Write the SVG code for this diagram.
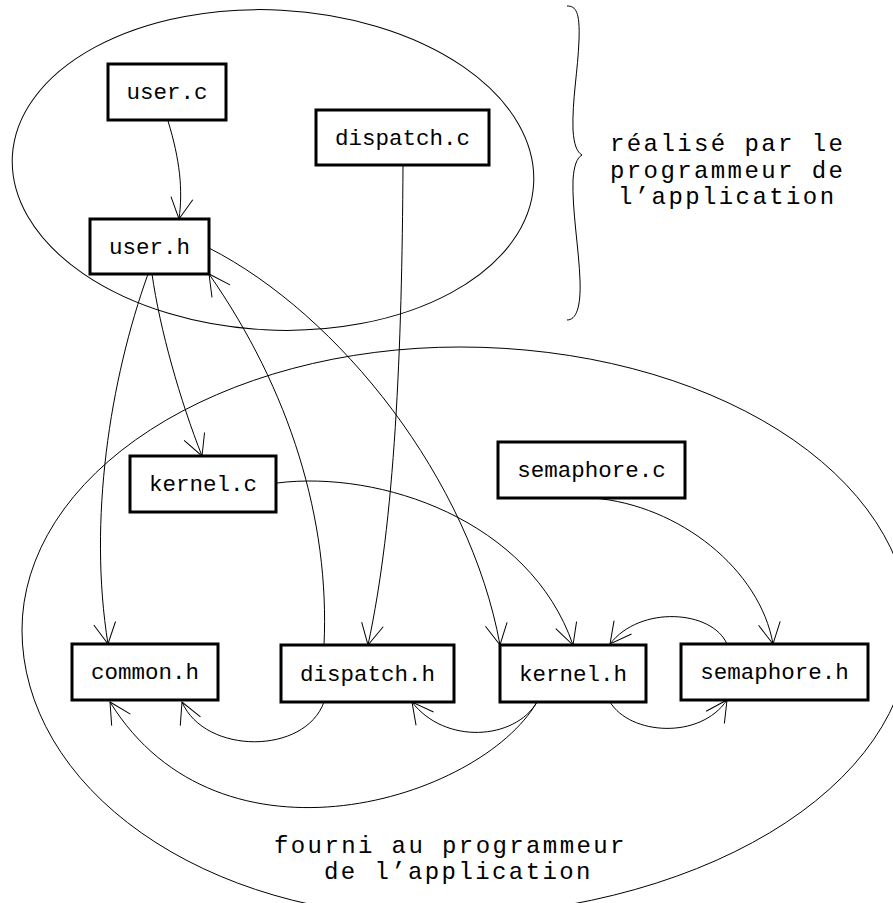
<svg xmlns="http://www.w3.org/2000/svg" width="893" height="903" viewBox="0 0 893 903">
<style>
.box rect{fill:#fff;stroke:#000;stroke-width:3}
.box text{font-family:"Liberation Mono","Courier New",monospace;font-size:22.5px;text-anchor:middle;fill:#000}
.edge path{fill:none;stroke:#000;stroke-width:1;marker-end:url(#ah)}
.region{fill:none;stroke:#000;stroke-width:1}
.note{font-family:"Liberation Mono","Courier New",monospace;font-size:24px;letter-spacing:2.4px;fill:#000}
</style>
<defs>
<marker id="ah" markerUnits="userSpaceOnUse" markerWidth="30" markerHeight="30" viewBox="-25 -15 30 30" refX="0" refY="0" orient="auto" overflow="visible">
<path d="M -21,-11 L 0,0 L -21,11" fill="none" stroke="#000" stroke-width="1"/>
</marker>
</defs>
<rect width="893" height="903" fill="#fff"/>
<g id="regions">
<ellipse class="region" cx="273" cy="170" rx="261" ry="160" transform="rotate(3 273 170)"/>
<path class="region" d="M 22,630 A 438,283 0 0 1 460,347 A 450,283 0 0 1 910,630 A 480,287 0 0 1 430,917 A 408,287 0 0 1 22,630 Z"/>
<path class="region" d="M 567,6 C 576,6 580,12 579,40 C 578,70 572,100 573,130 C 574,145 577,152 582,155 C 577,158 574,165 573,180 C 572,210 579,250 580,280 C 581,308 576,320 567,320"/>
</g>
<g id="notes">
<text class="note" x="610" y="151">réalisé par le</text>
<text class="note" x="610" y="177.5">programmeur de</text>
<text class="note" x="618" y="204">l’application</text>
<text class="note" x="274" y="853">fourni au programmeur</text>
<text class="note" x="324" y="879">de l’application</text>
</g>
<g id="connectors" class="edge">
<path d="M 168,121 C 180,160 183,190 179,219"/>
<path d="M 148,274 C 110,380 88,520 108,644"/>
<path d="M 152,274 C 160,330 180,400 202,456"/>
<path d="M 324,645 C 330,520 290,390 209,274"/>
<path d="M 403,165 C 402,350 395,520 368,645"/>
<path d="M 209,248 C 340,315 470,480 500,645"/>
<path d="M 277,483 C 380,470 530,520 573,645"/>
<path d="M 593,498 C 680,505 760,570 773,644"/>
<path d="M 727,644 C 712,610 640,605 610,644"/>
<path d="M 610,702 C 630,735 700,740 727,700"/>
<path d="M 537,702 C 515,740 445,745 412,702"/>
<path d="M 537,702 C 480,800 220,880 110,702"/>
<path d="M 324,702 C 305,755 205,755 182,702"/>
</g>
<g id="user_c" class="box"><rect x="108" y="64" width="118" height="56"/><text x="167" y="99">user.c</text></g>
<g id="user_h" class="box"><rect x="90" y="219" width="119" height="55"/><text x="149.5" y="254">user.h</text></g>
<g id="dispatch_c" class="box"><rect x="316" y="110" width="173" height="55"/><text x="402.5" y="145">dispatch.c</text></g>
<g id="kernel_c" class="box"><rect x="130" y="456" width="146" height="56"/><text x="203" y="491">kernel.c</text></g>
<g id="semaphore_c" class="box"><rect x="498" y="442" width="187" height="56"/><text x="591.5" y="477">semaphore.c</text></g>
<g id="common_h" class="box"><rect x="72" y="644" width="146" height="56"/><text x="145" y="679">common.h</text></g>
<g id="dispatch_h" class="box"><rect x="281" y="645" width="173" height="57"/><text x="367.5" y="681">dispatch.h</text></g>
<g id="kernel_h" class="box"><rect x="500" y="645" width="146" height="57"/><text x="573" y="681">kernel.h</text></g>
<g id="semaphore_h" class="box"><rect x="681" y="644" width="187" height="56"/><text x="774.5" y="679">semaphore.h</text></g>
</svg>
